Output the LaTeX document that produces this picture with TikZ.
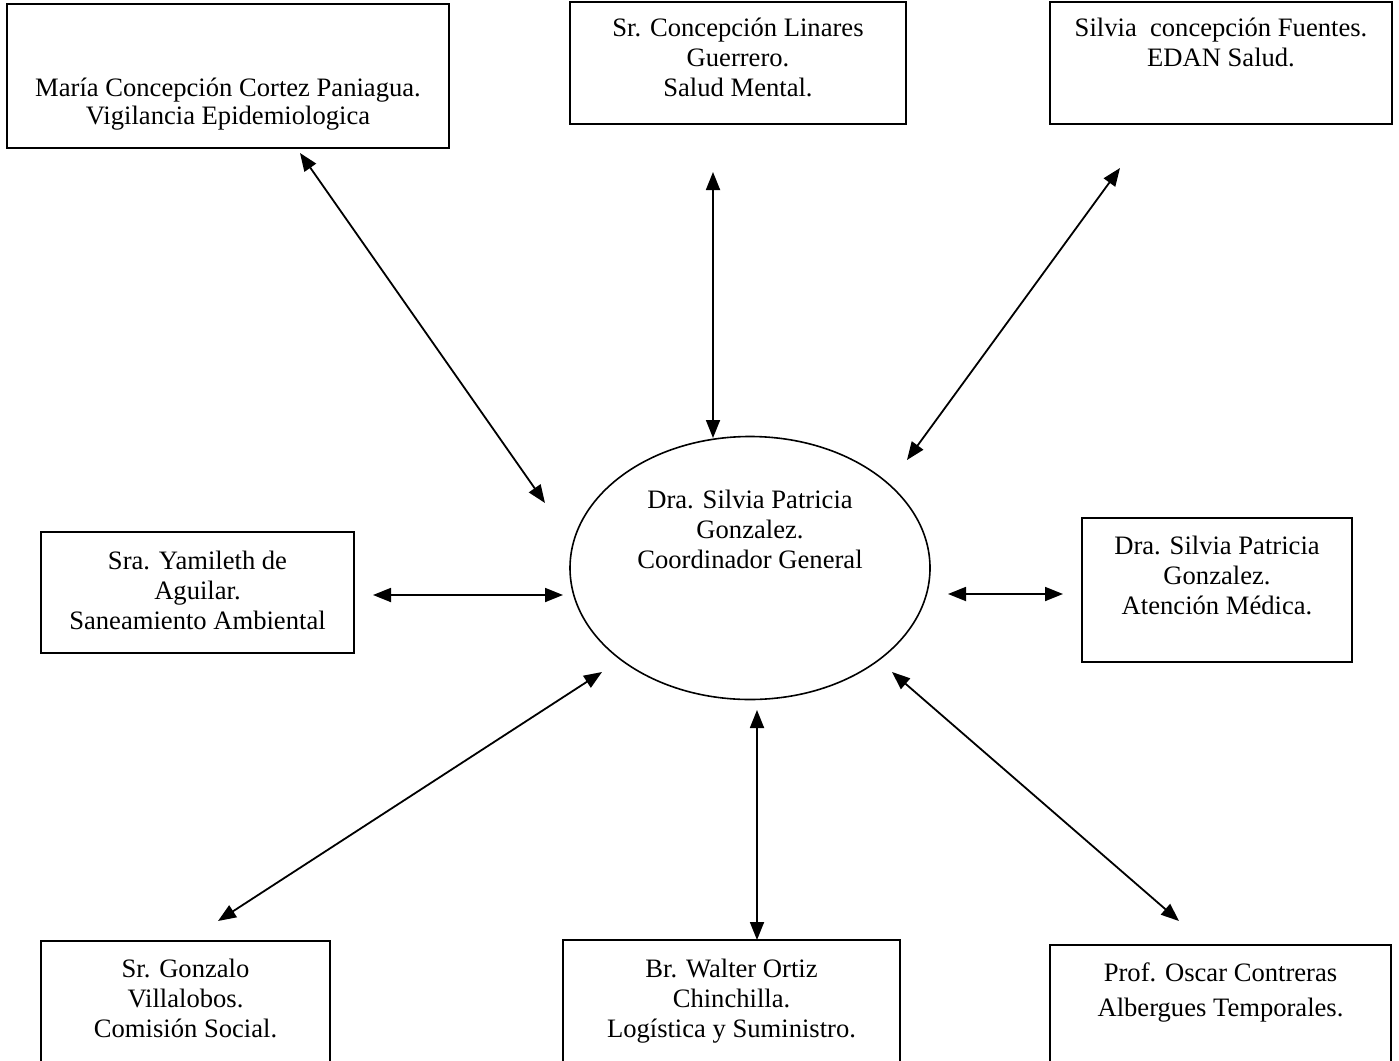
\documentclass[tikz,border=0pt]{standalone}
\usepackage{fontspec}
\setmainfont{Liberation Serif}
\usetikzlibrary{arrows.meta,shapes.geometric}

\begin{document}
\begin{tikzpicture}[x=1pt,y=-1pt,
  caja/.style={draw,line width=1.6pt,inner sep=0pt},
  texto/.style={align=center,inner sep=0pt,font=\fontsize{26.6}{30}\selectfont},
  flecha/.style={<->,>={Triangle[length=18pt,width=14pt]},line width=1.8pt}]
\useasboundingbox (0,0) rectangle (1399,1060);
\clip (0,0) rectangle (1399,1060);
\node[caja,minimum width=442,minimum height=144](vig) at (228,76){};
\node[texto,font=\fontsize{26.6}{28}\selectfont](vigt) at (228,104){Mar\'ia Concepci\'on Cortez Paniagua.\\Vigilancia Epidemiologica};
\node[caja,minimum width=336,minimum height=122](mental) at (738,63){};
\node[texto](mentalt) at (738,57){Sr. Concepci\'on Linares\\Guerrero.\\Salud Mental.};
\node[caja,minimum width=342,minimum height=122](edan) at (1221,63){};
\node[texto](edant) at (1221,42){Silvia\ \ concepci\'on Fuentes.\\EDAN Salud.};
\node[caja,minimum width=313,minimum height=121](sanea) at (197.5,592.5){};
\node[texto](saneat) at (197.5,590){Sra. Yamileth de\\Aguilar.\\Saneamiento Ambiental};
\node[caja,minimum width=270,minimum height=144](medica) at (1217,590){};
\node[texto](medicat) at (1217,575){Dra. Silvia Patricia\\Gonzalez.\\Atenci\'on M\'edica.};
\node[draw,ellipse,line width=1.6pt,minimum width=360,minimum height=263](coord) at (750,568){};
\node[texto](coordt) at (750,529){Dra. Silvia Patricia\\Gonzalez.\\Coordinador General};
\node[caja,minimum width=289,minimum height=139](social) at (185.5,1010.5){};
\node[texto](socialt) at (185.5,998){Sr. Gonzalo\\Villalobos.\\Comisi\'on Social.};
\node[caja,minimum width=337,minimum height=140](logis) at (731.5,1010){};
\node[texto](logist) at (731.5,1001){Br. Walter Ortiz\\Chinchilla.\\Log\'istica y Suministro.};
\node[caja,minimum width=341,minimum height=135](alber) at (1220.5,1012.5){};
\node[texto,font=\fontsize{26.6}{35}\selectfont](albert) at (1220.5,992){Prof. Oscar Contreras\\Albergues Temporales.};
\coordinate (p1) at (300,153);
\coordinate (q1) at (545,503);
\coordinate (p2) at (713,172);
\coordinate (q2) at (713,438);
\coordinate (p3) at (1120,168);
\coordinate (q3) at (907,460);
\coordinate (p4) at (373,595);
\coordinate (q4) at (563,595);
\coordinate (p5) at (948,594);
\coordinate (q5) at (1063,594);
\coordinate (p6) at (602,672);
\coordinate (q6) at (218,921);
\coordinate (p7) at (757,710);
\coordinate (q7) at (757,940);
\coordinate (p8) at (892,672);
\coordinate (q8) at (1179,921);
\draw[flecha](p1)--(q1);
\draw[flecha](p2)--(q2);
\draw[flecha](p3)--(q3);
\draw[flecha](p4)--(q4);
\draw[flecha](p5)--(q5);
\draw[flecha](p6)--(q6);
\draw[flecha](p7)--(q7);
\draw[flecha](p8)--(q8);
\end{tikzpicture}
\end{document}
